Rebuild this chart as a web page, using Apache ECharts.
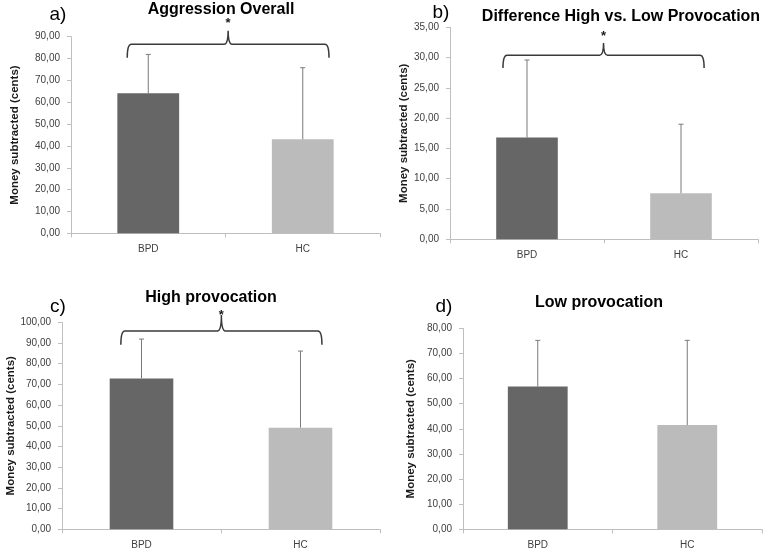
<!DOCTYPE html>
<html>
<head>
<meta charset="utf-8">
<script src="https://cdn.jsdelivr.net/npm/echarts@6/dist/echarts.min.js"></script>
<style>
  html, body { margin: 0; padding: 0; background: #fff; }
  #chart { width: 764px; height: 553px; }
</style>
</head>
<body>
<div id="chart"></div>
<script>
// groups on the x axis
const categories = ['BPD', 'HC']

// panel titles and letters
const panelTitles = ['Aggression Overall', 'Difference High vs. Low Provocation', 'High provocation', 'Low provocation']
const panelLetters = ['a)', 'b)', 'c)', 'd)']

// means (bar heights) and upper SD for each panel, BPD then HC
const meansA = [64.1, 43.0]
const sdA = [17.8, 32.8]
const meansB = [16.8, 7.6]
const sdB = [12.8, 11.4]
const meansC = [72.9, 49.1]
const sdC = [19.0, 37.0]
const meansD = [56.8, 41.5]
const sdD = [18.4, 33.7]

// y axis ranges
const yMax = [90, 35, 100, 80]
const yStep = [10, 5, 10, 10]

// significance brace: [left offset, right offset (in bands), top, end, peak, asterisk]
const braceA = [-0.136, 0.17, 86.5, 80.4, 92.7, 97.6]
const braceB = [-0.156, 0.15, 30.4, 28.3, 32.4, 34.0]
const braceC = [-0.13, 0.135, 95.8, 89.1, 103.5, 105.1]

const means = [meansA, meansB, meansC, meansD]
const sds = [sdA, sdB, sdC, sdD]
const braces = [braceA, braceB, braceC, null]

const barColors = ['#666666', '#bbbbbb']
const font = 'Liberation Sans, Arial, sans-serif'

const grids = [
  { left: 71, right: 384, top: 36.7, bottom: 319.7 },
  { left: 450, right: 6, top: 27.3, bottom: 313.7 },
  { left: 62, right: 384, top: 322.3, bottom: 23.7 },
  { left: 463, right: 2, top: 328.3, bottom: 23.7 }
]
const nameGaps = [50, 36, 45, 46]
const titlePos = [[221, 10], [621, 17], [211, 298], [599, 303]]
const letterPos = [[58, 15], [441, 13], [58, 307], [444, 307]]

const chart = echarts.init(document.getElementById('chart'))

const xAxes = grids.map((g, i) => ({
  type: 'category',
  gridIndex: i,
  data: categories,
  axisLine: { lineStyle: { color: '#bfbfbf', width: 1 } },
  axisTick: { show: true, length: 4, lineStyle: { color: '#bfbfbf' } },
  axisLabel: { color: '#404040', fontSize: 10, fontFamily: font, margin: 11 }
}))

const yAxes = grids.map((g, i) => ({
  type: 'value',
  gridIndex: i,
  min: 0,
  max: yMax[i],
  interval: yStep[i],
  name: 'Money subtracted (cents)',
  nameLocation: 'middle',
  nameGap: nameGaps[i],
  nameTextStyle: { fontWeight: 'bold', fontSize: 11.5, color: '#1a1a1a', fontFamily: font },
  axisLine: { show: true, lineStyle: { color: '#bfbfbf', width: 1 } },
  axisTick: { show: true, length: 4, lineStyle: { color: '#bfbfbf' } },
  axisLabel: {
    color: '#404040', fontSize: 10, fontFamily: font, margin: 11,
    formatter: v => v.toFixed(2).replace('.', ',')
  },
  splitLine: { show: false }
}))

const series = []
means.forEach((m, i) => {
  series.push({
    type: 'bar',
    xAxisIndex: i,
    yAxisIndex: i,
    barWidth: '40%',
    data: m.map((v, k) => ({ value: v, itemStyle: { color: barColors[k] } }))
  })
  // upper error bars
  series.push({
    type: 'custom',
    xAxisIndex: i,
    yAxisIndex: i,
    clip: false,
    z: 3,
    data: m.map((v, k) => [k, v, v + sds[i][k]]),
    renderItem: (params, api) => {
      const base = api.coord([api.value(0), api.value(1)])
      const top = api.coord([api.value(0), api.value(2)])
      const style = { stroke: '#7a7a7a', lineWidth: 1 }
      return {
        type: 'group',
        children: [
          { type: 'line', shape: { x1: base[0], y1: base[1], x2: top[0], y2: top[1] }, style },
          { type: 'line', shape: { x1: top[0] - 2.5, y1: top[1], x2: top[0] + 2.5, y2: top[1] }, style }
        ]
      }
    }
  })
  if (braces[i]) {
    const b = braces[i]
    series.push({
      type: 'custom',
      xAxisIndex: i,
      yAxisIndex: i,
      clip: false,
      z: 4,
      data: [[0, b[2]]],
      renderItem: (params, api) => {
        const band = api.size([1, 0])[0]
        const left = api.coord([0, b[2]])
        const right = api.coord([1, b[2]])
        const x0 = left[0] + b[0] * band
        const x1 = right[0] + b[1] * band
        const yTop = left[1]
        const yEnd = api.coord([0, b[3]])[1]
        const yPeak = api.coord([0, b[4]])[1]
        const yStar = api.coord([0, b[5]])[1]
        const xc = (x0 + x1) / 2
        const r = 4
        const s = 4
        const d = 'M' + x0 + ',' + yEnd +
          ' Q' + x0 + ',' + yTop + ' ' + (x0 + r) + ',' + yTop +
          ' L' + (xc - s) + ',' + yTop +
          ' Q' + xc + ',' + yTop + ' ' + xc + ',' + yPeak +
          ' Q' + xc + ',' + yTop + ' ' + (xc + s) + ',' + yTop +
          ' L' + (x1 - r) + ',' + yTop +
          ' Q' + x1 + ',' + yTop + ' ' + x1 + ',' + yEnd
        return {
          type: 'group',
          children: [
            { type: 'path', shape: { pathData: d }, style: { stroke: '#3a3a3a', lineWidth: 1.5, fill: null } },
            { type: 'text', x: xc, y: yStar + 3.5, style: { text: '*', font: 'bold 13px ' + font, fill: '#1a1a1a', textAlign: 'center', textVerticalAlign: 'middle' } }
          ]
        }
      }
    })
  }
})

const graphic = []
panelTitles.forEach((t, i) => {
  graphic.push({
    type: 'text', x: titlePos[i][0], y: titlePos[i][1],
    style: { text: t, font: 'bold 16px ' + font, fill: '#000', textAlign: 'center', textVerticalAlign: 'middle' }
  })
  graphic.push({
    type: 'text', x: letterPos[i][0], y: letterPos[i][1],
    style: { text: panelLetters[i], font: '19px ' + font, fill: '#000', textAlign: 'center', textVerticalAlign: 'middle' }
  })
})

chart.setOption({
  animation: false,
  backgroundColor: '#fff',
  grid: grids,
  xAxis: xAxes,
  yAxis: yAxes,
  series: series,
  graphic: graphic
})
</script>
</body>
</html>
